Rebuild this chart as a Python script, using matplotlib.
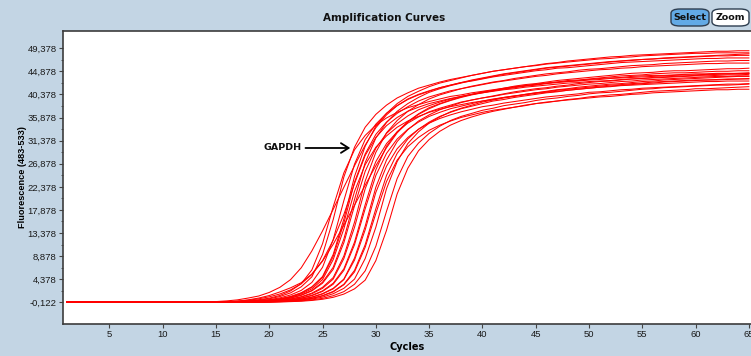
import numpy as np
import matplotlib
matplotlib.use("Agg")
import matplotlib.pyplot as plt
from matplotlib.patches import FancyBboxPatch

# ---------------------------------------------------------------------------
# Amplification data (fluorescence 483-533 per cycle)
# ---------------------------------------------------------------------------
cycles = np.arange(1, 66)
baseline_level = -0.122          # flat background for cycles 1-13
first_listed_cycle = 14          # each well below is listed from cycle 14 on

well_a1 = [-0.10, -0.09, -0.07, -0.03, 0.03, 0.13, 0.30, 0.57, 1.01, 1.74, 2.9, 4.9, 9.2, 16.1, 24.4, 30.3,
           34.2, 36.7, 38.6, 40.0, 41.0, 41.9, 42.6, 43.1, 43.6, 44.1, 44.5, 44.9, 45.2, 45.5, 45.8, 46.1,
           46.4, 46.6, 46.9, 47.1, 47.3, 47.5, 47.7, 47.8, 48.0, 48.1, 48.2, 48.3, 48.4, 48.5, 48.6, 48.7,
           48.8, 48.8, 48.9, 48.9]
well_a2 = [-0.09, -0.07, -0.03, 0.03, 0.12, 0.29, 0.56, 1.00, 1.72, 2.9, 4.85, 9.2, 16.0, 24.3, 30.1, 34.0,
           36.5, 38.3, 39.7, 40.7, 41.6, 42.2, 42.8, 43.3, 43.7, 44.1, 44.5, 44.9, 45.2, 45.5, 45.8, 46.0,
           46.3, 46.5, 46.7, 46.9, 47.1, 47.3, 47.4, 47.6, 47.7, 47.9, 48.0, 48.1, 48.2, 48.3, 48.4, 48.4,
           48.5, 48.5, 48.5, 48.5]
well_a3 = [-0.10, -0.10, -0.08, -0.06, -0.01, 0.07, 0.19, 0.41, 0.74, 1.32, 2.2, 3.8, 6.7, 12.2, 19.9, 27.1,
           31.9, 34.9, 37.1, 38.6, 39.8, 40.8, 41.5, 42.1, 42.6, 43.1, 43.5, 43.9, 44.3, 44.6, 44.9, 45.2,
           45.5, 45.7, 45.9, 46.1, 46.3, 46.5, 46.7, 46.9, 47.0, 47.2, 47.3, 47.4, 47.5, 47.6, 47.7, 47.8,
           47.9, 47.9, 48.0, 48.0]
well_a4 = [-0.10, -0.08, -0.06, -0.01, 0.07, 0.19, 0.40, 0.74, 1.31, 2.2, 3.75, 6.7, 12.1, 19.7, 26.8, 31.6,
           34.6, 36.7, 38.2, 39.4, 40.3, 41.0, 41.7, 42.2, 42.7, 43.0, 43.4, 43.8, 44.1, 44.4, 44.7, 45.0,
           45.2, 45.5, 45.6, 45.8, 46.0, 46.2, 46.4, 46.6, 46.7, 46.8, 46.9, 47.0, 47.1, 47.2, 47.3, 47.4,
           47.4, 47.5, 47.5, 47.5]
well_a5 = [-0.11, -0.10, -0.09, -0.07, -0.04, 0.02, 0.12, 0.28, 0.54, 0.96, 1.67, 2.8, 4.7, 8.9, 15.5, 23.5,
           29.1, 32.9, 35.3, 37.1, 38.4, 39.5, 40.3, 40.9, 41.5, 42.0, 42.4, 42.8, 43.1, 43.5, 43.8, 44.1,
           44.4, 44.6, 44.8, 45.1, 45.3, 45.4, 45.6, 45.8, 46.0, 46.1, 46.2, 46.4, 46.5, 46.6, 46.7, 46.8,
           46.9, 46.9, 47.0, 47.0]
well_a6 = [-0.10, -0.09, -0.07, -0.04, 0.02, 0.11, 0.28, 0.53, 0.95, 1.65, 2.8, 4.7, 8.8, 15.3, 23.3, 28.8,
           32.6, 35.0, 36.7, 38.0, 39.1, 39.9, 40.5, 41.1, 41.5, 41.9, 42.3, 42.7, 43.0, 43.3, 43.6, 43.9,
           44.1, 44.4, 44.6, 44.8, 45.0, 45.2, 45.3, 45.5, 45.6, 45.8, 45.9, 46.0, 46.1, 46.2, 46.3, 46.4,
           46.4, 46.5, 46.5, 46.5]

well_b1 = [-0.11, -0.10, -0.10, -0.08, -0.06, -0.02, 0.06, 0.18, 0.38, 0.70, 1.25, 2.1, 3.6, 6.4, 11.6, 18.9,
           25.7, 30.3, 33.1, 35.1, 36.6, 37.8, 38.6, 39.3, 39.9, 40.4, 40.9, 41.2, 41.6, 42.0, 42.3, 42.5,
           42.8, 43.1, 43.3, 43.5, 43.7, 43.9, 44.1, 44.3, 44.5, 44.6, 44.7, 44.9, 45.0, 45.0, 45.1, 45.2,
           45.3, 45.4, 45.4, 45.5]
well_b2 = [-0.10, -0.10, -0.08, -0.06, -0.02, 0.06, 0.17, 0.38, 0.69, 1.23, 2.1, 3.6, 6.3, 11.5, 18.7, 25.4,
           29.9, 32.8, 34.7, 36.2, 37.4, 38.2, 38.9, 39.5, 40.0, 40.4, 40.8, 41.1, 41.5, 41.8, 42.1, 42.3,
           42.6, 42.8, 43.1, 43.2, 43.4, 43.6, 43.8, 44.0, 44.1, 44.2, 44.4, 44.5, 44.6, 44.6, 44.7, 44.8,
           44.9, 44.9, 45.0, 45.0]
well_b3 = [-0.11, -0.11, -0.10, -0.09, -0.08, -0.04, 0.01, 0.10, 0.26, 0.50, 0.90, 1.57, 2.6, 4.4, 8.5, 14.7,
           22.3, 27.6, 31.2, 33.5, 35.2, 36.4, 37.4, 38.1, 38.8, 39.3, 39.7, 40.1, 40.5, 40.9, 41.2, 41.5,
           41.7, 42.0, 42.2, 42.5, 42.7, 42.9, 43.0, 43.2, 43.4, 43.5, 43.7, 43.8, 43.9, 44.0, 44.1, 44.2,
           44.3, 44.4, 44.4, 44.5]
well_b4 = [-0.11, -0.10, -0.09, -0.08, -0.04, 0.01, 0.10, 0.25, 0.50, 0.89, 1.55, 2.6, 4.4, 8.4, 14.5, 22.0,
           27.3, 30.8, 33.1, 34.8, 36.0, 37.0, 37.7, 38.3, 38.9, 39.3, 39.7, 40.0, 40.4, 40.7, 41.0, 41.3,
           41.5, 41.8, 42.0, 42.2, 42.4, 42.5, 42.7, 42.9, 43.0, 43.2, 43.3, 43.4, 43.5, 43.6, 43.7, 43.8,
           43.9, 43.9, 44.0, 44.0]
well_b5 = [-0.12, -0.11, -0.11, -0.10, -0.09, -0.08, -0.04, 0.01, 0.10, 0.25, 0.50, 0.89, 1.55, 2.6, 4.4, 8.4,
           14.5, 22.0, 27.3, 30.8, 33.1, 34.8, 36.0, 37.0, 37.7, 38.3, 38.9, 39.3, 39.7, 40.0, 40.4, 40.7,
           41.0, 41.3, 41.5, 41.8, 42.0, 42.2, 42.4, 42.5, 42.7, 42.9, 43.0, 43.2, 43.3, 43.4, 43.5, 43.6,
           43.7, 43.8, 43.9, 43.9]
well_b6 = [-0.11, -0.10, -0.10, -0.08, -0.06, -0.02, 0.05, 0.16, 0.36, 0.66, 1.18, 2.0, 3.4, 6.1, 11.1, 18.1,
           24.6, 28.9, 31.7, 33.6, 35.0, 36.1, 36.9, 37.6, 38.1, 38.6, 39.1, 39.4, 39.8, 40.1, 40.4, 40.7,
           40.9, 41.2, 41.4, 41.6, 41.8, 42.0, 42.2, 42.3, 42.5, 42.6, 42.8, 42.9, 43.0, 43.1, 43.2, 43.2,
           43.3, 43.4, 43.4, 43.5]
well_b7 = [-0.11, -0.11, -0.10, -0.10, -0.08, -0.06, -0.02, 0.05, 0.16, 0.36, 0.66, 1.18, 2.0, 3.4, 6.1, 11.1,
           18.1, 24.6, 28.9, 31.7, 33.6, 35.0, 36.1, 36.9, 37.6, 38.1, 38.6, 39.1, 39.4, 39.8, 40.1, 40.4,
           40.7, 40.9, 41.2, 41.4, 41.6, 41.8, 42.0, 42.2, 42.3, 42.5, 42.6, 42.8, 42.9, 43.0, 43.1, 43.2,
           43.2, 43.3, 43.4, 43.4]
well_b8 = [-0.10, -0.09, -0.08, -0.04, 0.01, 0.10, 0.25, 0.48, 0.87, 1.51, 2.5, 4.3, 8.2, 14.2, 21.5, 26.7,
           30.1, 32.3, 34.0, 35.2, 36.1, 36.9, 37.5, 38.0, 38.4, 38.8, 39.1, 39.5, 39.8, 40.1, 40.3, 40.6,
           40.8, 41.0, 41.2, 41.4, 41.6, 41.8, 41.9, 42.1, 42.2, 42.3, 42.4, 42.5, 42.6, 42.7, 42.8, 42.9,
           42.9, 43.0, 43.0, 43.0]
well_b9 = [-0.12, -0.11, -0.11, -0.10, -0.10, -0.08, -0.06, -0.02, 0.05, 0.16, 0.35, 0.65, 1.16, 1.96, 3.4, 6.0,
           10.8, 17.6, 24.0, 28.3, 30.9, 32.8, 34.2, 35.3, 36.1, 36.7, 37.3, 37.7, 38.2, 38.5, 38.8, 39.2,
           39.5, 39.7, 40.0, 40.2, 40.5, 40.7, 40.8, 41.0, 41.2, 41.4, 41.5, 41.7, 41.8, 41.9, 42.0, 42.1,
           42.2, 42.2, 42.3, 42.4]
well_b10 = [-0.11, -0.11, -0.10, -0.09, -0.08, -0.04, 0.01, 0.09, 0.24, 0.48, 0.86, 1.50, 2.5, 4.3, 8.1, 14.0,
            21.3, 26.4, 29.8, 32.0, 33.6, 34.8, 35.7, 36.4, 37.0, 37.5, 38.0, 38.3, 38.7, 39.0, 39.3, 39.6,
            39.9, 40.1, 40.3, 40.5, 40.8, 40.9, 41.1, 41.3, 41.4, 41.6, 41.7, 41.8, 41.9, 42.0, 42.1, 42.2,
            42.3, 42.4, 42.4, 42.5]
well_b11 = [-0.12, -0.12, -0.11, -0.11, -0.10, -0.09, -0.08, -0.04, 0.01, 0.09, 0.24, 0.47, 0.85, 1.48, 2.5, 4.2,
            8.0, 13.9, 21.0, 26.0, 29.4, 31.6, 33.2, 34.4, 35.3, 36.0, 36.6, 37.1, 37.5, 37.9, 38.2, 38.6,
            38.9, 39.1, 39.4, 39.6, 39.9, 40.1, 40.3, 40.4, 40.6, 40.8, 41.0, 41.1, 41.2, 41.3, 41.5, 41.5,
            41.6, 41.7, 41.8, 41.9]
well_b12 = [-0.11, -0.11, -0.10, -0.10, -0.09, -0.07, -0.02, 0.04, 0.15, 0.34, 0.63, 1.13, 1.91, 3.3, 5.8, 10.6,
            17.2, 23.4, 27.6, 30.2, 32.0, 33.4, 34.4, 35.2, 35.9, 36.4, 36.9, 37.3, 37.6, 37.9, 38.3, 38.6,
            38.8, 39.1, 39.3, 39.5, 39.7, 39.9, 40.0, 40.2, 40.4, 40.5, 40.7, 40.8, 40.9, 41.0, 41.1, 41.2,
            41.3, 41.3, 41.4, 41.4]
well_b13 = [-0.08, -0.06, -0.02, 0.05, 0.17, 0.37, 0.68, 1.21, 2.1, 3.5, 6.2, 11.3, 18.5, 25.1, 29.6, 32.4,
            34.4, 35.8, 36.9, 37.8, 38.4, 39.0, 39.5, 40.0, 40.3, 40.7, 41.0, 41.3, 41.6, 41.9, 42.1, 42.4,
            42.6, 42.8, 42.9, 43.1, 43.3, 43.5, 43.6, 43.7, 43.9, 44.0, 44.1, 44.1, 44.2, 44.3, 44.4, 44.4,
            44.5, 44.5, 44.5, 44.5]

# early wells with a slower, almost straight rise
well_s1 = [-0.06, 0.02, 0.15, 0.35, 0.7, 1.1, 1.8, 2.8, 4.3, 6.6, 9.9, 13.8, 18.0, 22.3, 26.5, 30.5,
           33.9, 36.4, 38.2, 39.5, 40.4, 41.1, 41.7, 42.2, 42.7, 43.2, 43.6, 44.0, 44.4, 44.7, 45.0, 45.3,
           45.6, 45.8, 46.0, 46.2, 46.4, 46.6, 46.8, 46.9, 47.1, 47.2, 47.3, 47.5, 47.6, 47.7, 47.8, 47.9,
           48.0, 48.1, 48.2, 48.3]
well_s2 = [-0.11, -0.08, -0.02, 0.1, 0.35, 0.7, 1.2, 1.9, 2.7, 3.7, 5.4, 8.0, 12.0, 17.0, 23.0, 28.5,
           32.0, 34.3, 35.9, 37.1, 37.9, 38.6, 39.1, 39.6, 40.0, 40.4, 40.7, 41.0, 41.3, 41.5, 41.8, 42.0,
           42.2, 42.4, 42.6, 42.7, 42.9, 43.0, 43.1, 43.3, 43.4, 43.5, 43.6, 43.7, 43.8, 43.9, 44.0, 44.0,
           44.1, 44.2, 44.2, 44.3]
well_s3 = [-0.10, -0.06, 0.0, 0.1, 0.28, 0.55, 0.95, 1.5, 2.3, 3.5, 5.3, 7.9, 11.2, 14.9, 18.8, 22.7,
           26.5, 30.0, 32.9, 35.0, 36.5, 37.6, 38.5, 39.2, 39.8, 40.3, 40.7, 41.1, 41.4, 41.7, 42.0, 42.2,
           42.5, 42.7, 42.9, 43.0, 43.2, 43.3, 43.5, 43.6, 43.7, 43.8, 43.9, 44.0, 44.1, 44.2, 44.2, 44.3,
           44.4, 44.4, 44.5, 44.6]

wells = [well_a1, well_a2, well_a3, well_a4, well_a5, well_a6,
         well_b1, well_b2, well_b3, well_b4, well_b5, well_b6, well_b7,
         well_b8, well_b9, well_b10, well_b11, well_b12, well_b13,
         well_s1, well_s2, well_s3]

x_ticks = [5, 10, 15, 20, 25, 30, 35, 40, 45, 50, 55, 60, 65]
y_ticks = [-0.122, 4.378, 8.878, 13.378, 17.878, 22.378, 26.878,
           31.378, 35.878, 40.378, 44.878, 49.378]
y_tick_labels = ["-0,122", "4,378", "8,878", "13,378", "17,878", "22,378", "26,878",
                 "31,378", "35,878", "40,378", "44,878", "49,378"]

# ---------------------------------------------------------------------------
# Figure
# ---------------------------------------------------------------------------
W, H = 751, 356
panel_bg = "#c3d5e4"
fig = plt.figure(figsize=(W / 100, H / 100), dpi=100, facecolor=panel_bg)

ax = fig.add_axes([62.7 / W, (H - 324) / H, (W - 62.7) / W, 293 / H])
ax.set_facecolor("white")

n_base = first_listed_cycle - 1
for w in wells:
    y = [baseline_level] * n_base + list(w)
    ax.plot(cycles, y, color="#ff0000", lw=0.75, solid_joinstyle="round")

ax.set_xlim(0.62, 65.2)
ax.set_ylim(-4.35, 52.75)

ax.set_xticks(x_ticks)
ax.set_yticks(y_ticks)
ax.set_yticklabels(y_tick_labels)
ax.set_yticks([v + 2.25 for v in y_ticks[:-1]], minor=True)

for lab in ax.get_xticklabels() + ax.get_yticklabels():
    lab.set_fontfamily("Liberation Sans")
    lab.set_fontsize(6.8)
    lab.set_color("#1a1a1a")

ax.tick_params(axis="both", which="major", direction="out", length=3,
               width=0.8, color="#444444", pad=1.5)
ax.tick_params(axis="y", which="minor", direction="out", length=1.8,
               width=0.6, color="#444444")

for side in ("left", "bottom", "top"):
    ax.spines[side].set_color("#3c3c3c")
    ax.spines[side].set_linewidth(1.2)
ax.spines["right"].set_visible(False)

ax.set_xlabel("Cycles", fontsize=7, fontweight="bold", family="DejaVu Sans",
              labelpad=2)
ax.set_ylabel("Fluorescence (483-533)", fontsize=6.6, fontweight="bold",
              family="Liberation Sans")
ax.yaxis.set_label_coords((22 - 62.7) / 688.3, 0.5)
ax.yaxis.label.set_verticalalignment("center")

# Target label with arrow
ax.annotate("", xy=(27.6, 29.95), xytext=(23.4, 29.95),
            arrowprops=dict(arrowstyle="->,head_length=0.55,head_width=0.35",
                            lw=1.3, color="black", shrinkA=0, shrinkB=0))
ax.text(23.0, 29.95, "GAPDH", ha="right", va="center", fontsize=6.8,
        fontweight="bold", family="DejaVu Sans", color="#111111")

# Title
fig.text(384 / W, 1 - 18 / H, "Amplification Curves", ha="center", va="center",
         fontsize=7.5, fontweight="bold", family="DejaVu Sans", color="#111111")

# Select / Zoom buttons
def button(x0, y0, x1, y1, label, face):
    box = FancyBboxPatch((x0 / W, 1 - y1 / H), (x1 - x0) / W, (y1 - y0) / H,
                         boxstyle="round,pad=0,rounding_size=0.012",
                         transform=fig.transFigure, facecolor=face,
                         edgecolor="#2e3e50", linewidth=1.0)
    fig.patches.append(box)
    fig.text((x0 + x1) / 2 / W, 1 - (y0 + y1) / 2 / H, label, ha="center",
             va="center", fontsize=6.8, fontweight="bold",
             family="DejaVu Sans", color="#111111")

button(671, 9, 709, 26, "Select", "#62aae6")
button(712, 9, 749, 26, "Zoom", "white")

fig.savefig("out.png", dpi=100, facecolor=panel_bg)
